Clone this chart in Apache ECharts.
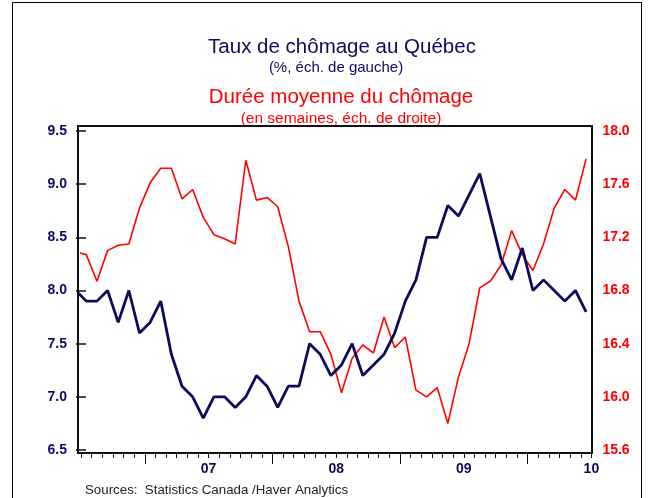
<!DOCTYPE html>
<html><head><meta charset="utf-8">
<script src="https://cdn.jsdelivr.net/npm/echarts@6/dist/echarts.min.js"></script>
<style>html,body{margin:0;padding:0;background:#fff}#c{width:657px;height:498px}</style>
</head><body><div id="c"></div>
<script>
// Monthly data, first value = Dec 2005 (clipped at the left edge), then Jan 2006 .. Dec 2009
const unemploymentRate = [8.0,
  7.9, 7.9, 8.0, 7.7, 8.0, 7.6, 7.7, 7.9, 7.4, 7.1, 7.0, 6.8,
  7.0, 7.0, 6.9, 7.0, 7.2, 7.1, 6.9, 7.1, 7.1, 7.5, 7.4, 7.2,
  7.3, 7.5, 7.2, 7.3, 7.4, 7.6, 7.9, 8.1, 8.5, 8.5, 8.8, 8.7,
  8.9, 9.1, 8.7, 8.3, 8.1, 8.4, 8.0, 8.1, 8.0, 7.9, 8.0, 7.8];
const durationWeeks = [17.09,
  17.07, 16.87, 17.10, 17.14, 17.15, 17.42, 17.61, 17.72, 17.72, 17.49, 17.56, 17.35,
  17.22, 17.19, 17.15, 17.78, 17.48, 17.50, 17.43, 17.13, 16.72, 16.49, 16.49, 16.32,
  16.03, 16.29, 16.39, 16.33, 16.60, 16.37, 16.45, 16.05, 16.00, 16.07, 15.80, 16.15,
  16.40, 16.82, 16.87, 16.99, 17.25, 17.07, 16.95, 17.15, 17.42, 17.56, 17.48, 17.79];
const yearLabels = ['07', '08', '09', '10'];
const yearLabelPositions = [12, 24, 36, 48];
const midYearTickPositions = [6, 18, 30, 42];

const NAVY = '#0c0c5e';
const RED = '#ff0000';
const FONT = '"Liberation Sans", Arial, Helvetica, sans-serif';

const toPoints = arr => arr.map((v, i) => [i - 0.5, v]);

const chart = echarts.init(document.getElementById('c'), null, {renderer: 'canvas'});
const option = {
  animation: false,
  backgroundColor: '#fff',
  title: [
    {text: 'Taux de chômage au Québec', left: 337, top: 32, textAlign: 'center',
     textStyle: {fontSize: 20.5, fontWeight: 'normal', color: NAVY, fontFamily: FONT}},
    {text: '(%, éch. de gauche)', left: 331, top: 55, textAlign: 'center',
     textStyle: {fontSize: 15, fontWeight: 'normal', color: NAVY, fontFamily: FONT}},
    {text: 'Durée moyenne du chômage', left: 336, top: 82, textAlign: 'center',
     textStyle: {fontSize: 20.5, fontWeight: 'normal', color: RED, fontFamily: FONT}},
    {text: '(en semaines, éch. de droite)', left: 336, top: 106, textAlign: 'center',
     textStyle: {fontSize: 15.5, fontWeight: 'normal', color: RED, fontFamily: FONT}},
    {text: 'Sources:  Statistics Canada /Haver Analytics', left: 80, top: 479,
     textStyle: {fontSize: 13.3, fontWeight: 'normal', color: '#222', fontFamily: FONT}}
  ],
  graphic: [
    {type: 'rect', shape: {x: 12.5, y: 2.5, width: 629, height: 520},
     style: {fill: 'none', stroke: '#000', lineWidth: 1}, silent: true},
    {type: 'rect', shape: {x: 78, y: 126, width: 514, height: 327},
     style: {fill: 'none', stroke: '#111', lineWidth: 2}, silent: true, z: 10}
  ],
  grid: {left: 81, right: 65.6, top: 131, bottom: 48, containLabel: false},
  xAxis: [
    {type: 'value', min: 0, max: 48, interval: 1, position: 'bottom', offset: 3,
     axisLine: {show: false},
     axisTick: {show: true, length: 5, lineStyle: {color: '#111', width: 1}},
     axisLabel: {show: true, margin: 9, customValues: yearLabelPositions,
       formatter: v => { const i = yearLabelPositions.indexOf(v); return i >= 0 ? yearLabels[i] : ''; },
       color: NAVY, fontWeight: 'bold', fontSize: 14, fontFamily: FONT},
     splitLine: {show: false}},
    {type: 'value', min: 0, max: 48, interval: 6, position: 'bottom', offset: 3,
     axisLine: {show: false},
     axisTick: {show: true, length: 11, customValues: midYearTickPositions, lineStyle: {color: '#111', width: 1}},
     axisLabel: {show: false}, splitLine: {show: false}}
  ],
  yAxis: [
    {type: 'value', min: 6.5, max: 9.5, interval: 0.5, position: 'left', offset: 3,
     axisLine: {show: false},
     axisTick: {show: true, length: 5, lineStyle: {color: '#111', width: 1.5}},
     axisLabel: {margin: 11, formatter: v => v.toFixed(1), color: NAVY, fontWeight: 'bold', fontSize: 14, fontFamily: FONT},
     splitLine: {show: false}},
    {type: 'value', min: 15.6, max: 18.0, interval: 0.4, position: 'right', offset: 1,
     axisLine: {show: false},
     axisTick: {show: true, length: 5, lineStyle: {color: '#111', width: 1.5}},
     axisLabel: {margin: 10, formatter: v => v.toFixed(1), color: RED, fontWeight: 'bold', fontSize: 14, fontFamily: FONT},
     splitLine: {show: false}}
  ],
  series: [
    {name: 'Durée moyenne du chômage', type: 'line', xAxisIndex: 0, yAxisIndex: 1,
     data: toPoints(durationWeeks), showSymbol: false, symbol: 'none', clip: true,
     lineStyle: {color: RED, width: 1.6}, z: 2},
    {name: 'Taux de chômage', type: 'line', xAxisIndex: 0, yAxisIndex: 0,
     data: toPoints(unemploymentRate), showSymbol: false, symbol: 'none', clip: true,
     lineStyle: {color: NAVY, width: 2.8}, z: 3}
  ]
};
chart.setOption(option);
</script></body></html>
